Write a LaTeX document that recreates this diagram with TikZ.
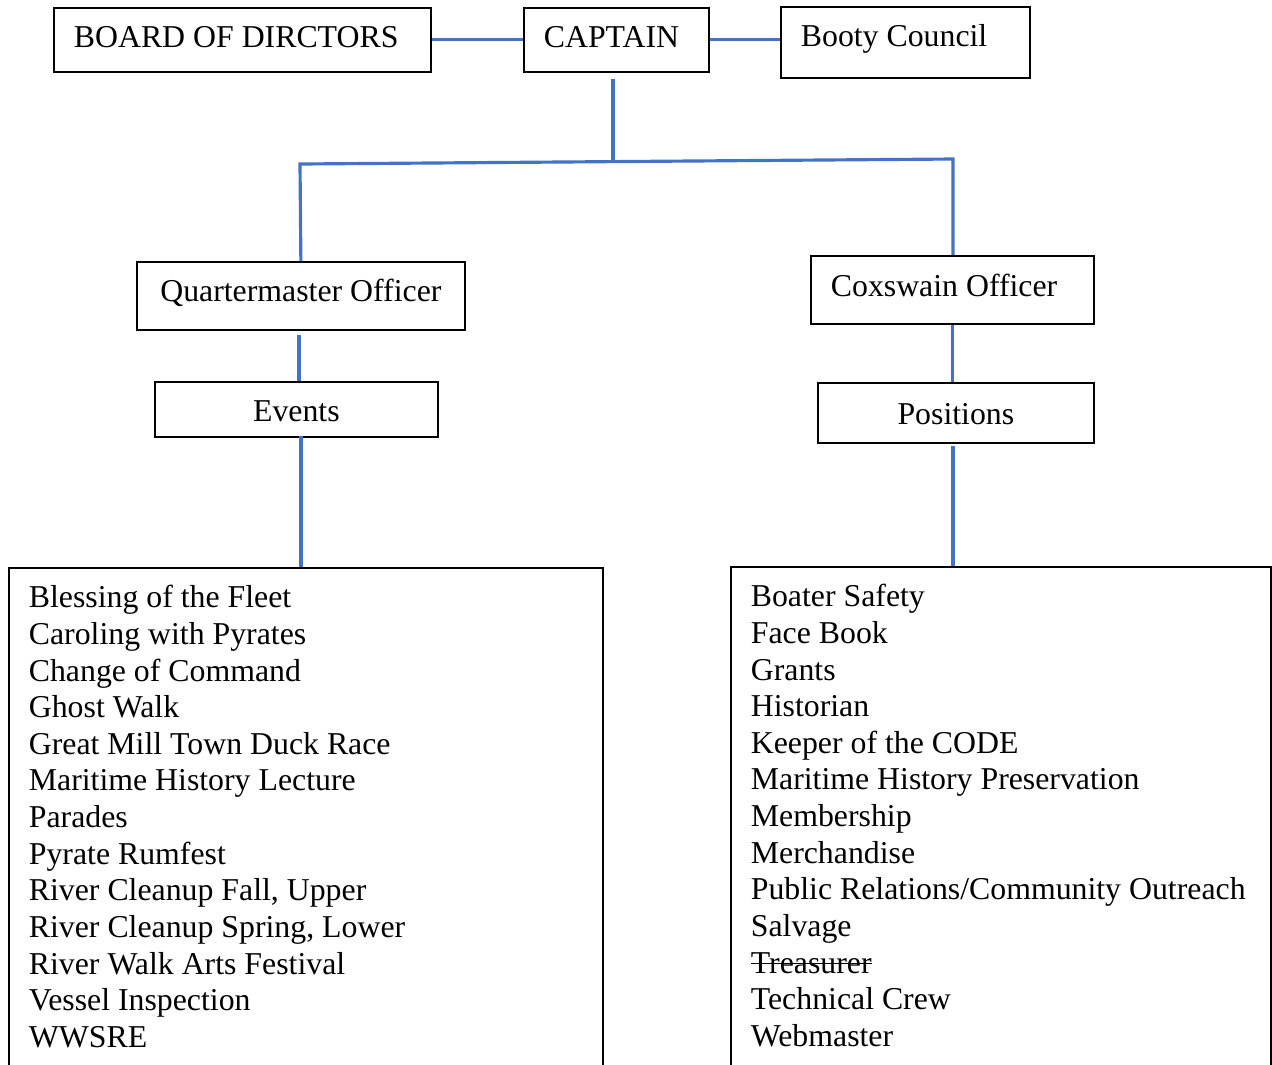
\documentclass[tikz,border=0pt]{standalone}
\usepackage{fontspec}
\setmainfont{Liberation Serif}
\definecolor{wordblue}{RGB}{68,114,196}
\newcommand{\strikeword}[1]{\leavevmode\setbox0\hbox{#1}\rlap{\rule[0.27em]{\wd0}{0.5pt}}\box0}

\begin{document}
\begin{tikzpicture}[
    unit/.style={draw, line width=0.5pt, anchor=north west, inner xsep=0.2cm, inner ysep=0pt,
                 text height=0.25cm, font=\fontsize{9.05}{10.42}\selectfont},
    roster/.style={draw, line width=0.5pt, anchor=north west, align=flush left, inner xsep=0.2cm,
                   inner ysep=0.175cm, font=\fontsize{9.05}{10.42}\selectfont},
    link/.style={draw=wordblue, line width=0.9pt}
]
\useasboundingbox (0,0) rectangle (12.72,-10.64);
\clip (0,0) rectangle (12.72,-10.64);

% Top row
\node[unit, text width=3.37cm, minimum height=0.64cm, text depth=0.09cm, align=flush left] (board) at (0.53,-0.07) {BOARD OF DIRCTORS};
\node[unit, text width=1.45cm, minimum height=0.64cm, text depth=0.09cm, align=flush left] (captain) at (5.23,-0.07) {CAPTAIN};
\node[unit, text width=2.09cm, minimum height=0.71cm, text depth=0.17cm, align=flush left] (booty) at (7.80,-0.06) {Booty Council};

% Officers
\node[unit, text width=2.88cm, minimum height=0.68cm, text depth=0.14cm, align=flush center] (qm) at (1.36,-2.61) {Quartermaster Officer};
\node[unit, text width=2.43cm, minimum height=0.68cm, text depth=0.12cm, align=flush left] (cox) at (8.10,-2.55) {Coxswain Officer};

% Groups under each officer
\node[unit, text width=2.43cm, minimum height=0.55cm, text depth=0.01cm, align=flush center] (events) at (1.54,-3.81) {Events};
\node[unit, text width=2.36cm, minimum height=0.60cm, text depth=0.02cm, align=flush center] (pos) at (8.17,-3.82) {Positions};

% Lists (run off the bottom of the page)
\node[roster, text width=5.54cm] (evlist) at (0.08,-5.67) {%
Blessing of the Fleet\\
Caroling with Pyrates\\
Change of Command\\
Ghost Walk\\
Great Mill Town Duck Race\\
Maritime History Lecture\\
Parades\\
Pyrate Rumfest\\
River Cleanup Fall, Upper\\
River Cleanup Spring, Lower\\
River Walk Arts Festival\\
Vessel Inspection\\
WWSRE\\[2cm]\mbox{}};
\node[roster, text width=5.00cm] (poslist) at (7.30,-5.66) {%
Boater Safety\\
Face Book\\
Grants\\
Historian\\
Keeper of the CODE\\
Maritime History Preservation\\
Membership\\
Merchandise\\
\mbox{Public Relations/Community Outreach}\\
Salvage\\
\strikeword{Treasurer}\\
Technical Crew\\
Webmaster\\[2cm]\mbox{}};

% Free ends of the connectors
\coordinate (capgap) at (6.13,-0.79);
\coordinate (hub) at (6.13,-1.616);
\coordinate (lefthub) at (3.00,-1.64);
\coordinate (righthub) at (9.53,-1.59);
\coordinate (qmgap) at (2.99,-3.35);
\coordinate (evdrop) at (3.01,-4.36);
\coordinate (posgap) at (9.53,-4.46);

% Connectors
\draw[link] (board.east) -- (captain.west);
\draw[link] (captain.east) -- (captain.east -| booty.west);
\draw[link] (capgap) -- (hub);
\draw[link] (qm.north) -- (lefthub) -- (righthub) -- (righthub |- cox.north);
\draw[link] (qmgap) -- (qmgap |- events.north);
\draw[link] (evdrop) -- (evdrop |- evlist.north);
\draw[link] (cox.south) -- (cox.south |- pos.north);
\draw[link] (posgap) -- (posgap |- poslist.north);

\end{tikzpicture}
\end{document}
